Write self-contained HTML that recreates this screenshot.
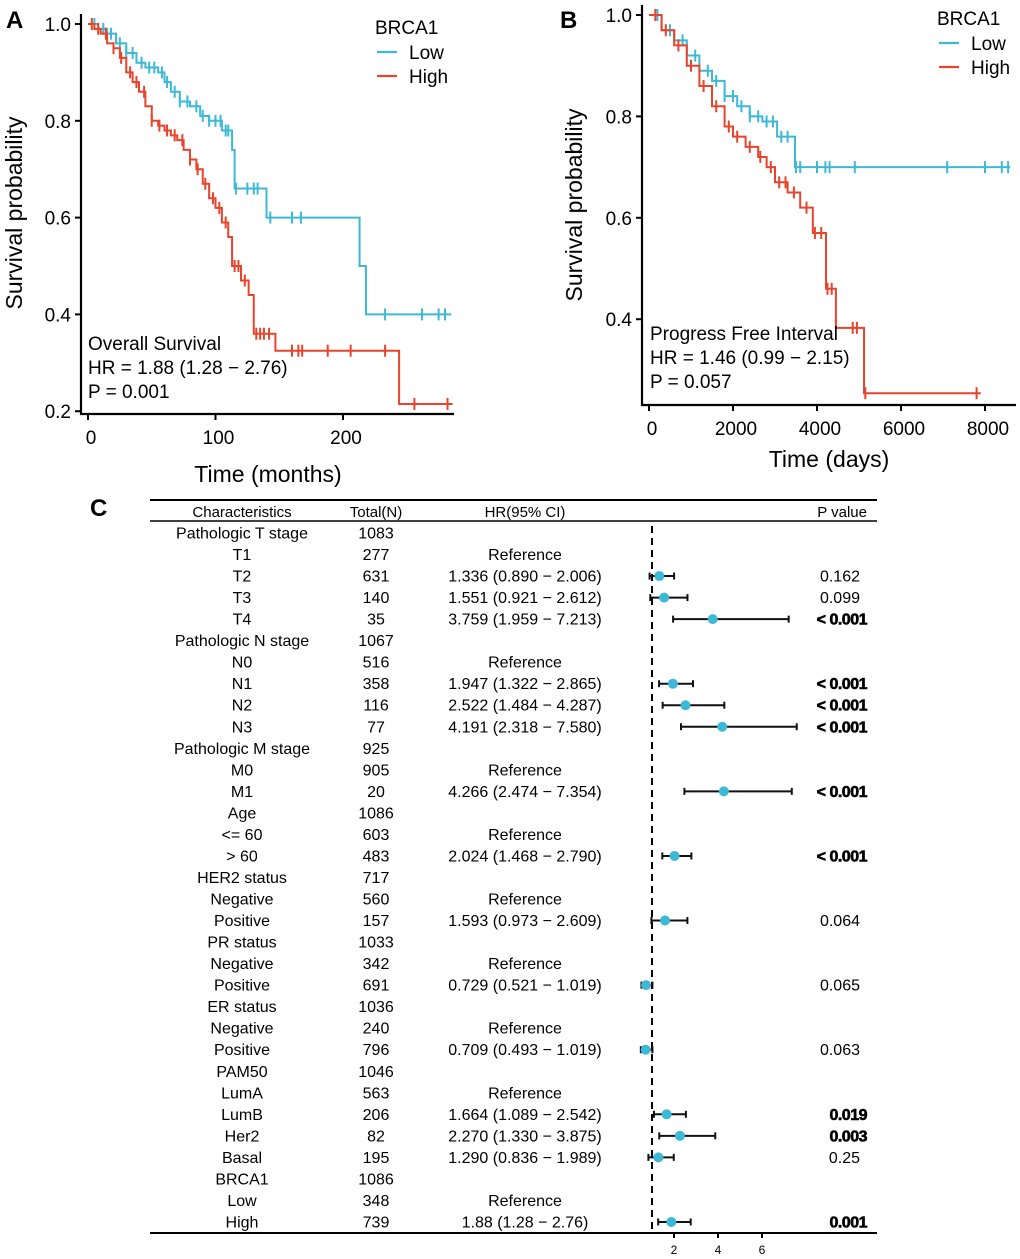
<!DOCTYPE html>
<html><head><meta charset="utf-8"><style>
body{margin:0;background:#fff}
svg{display:block;font-family:"Liberation Sans",Arial,sans-serif}
</style></head><body>
<svg id="fig" width="1020" height="1259" viewBox="0 0 1020 1259">
<g id="pA"></g>
<g id="pB"></g>
<g id="pC"></g>
</svg>
<script>
// ---- Panel A data (months, survival) ----
const aLowT=[0,8,15,22,30,38,45,55,60,65,72,80,88,95,105,113,115,140,213,218,285];
const aLowS=[1,0.99,0.98,0.96,0.94,0.92,0.91,0.90,0.88,0.86,0.84,0.83,0.81,0.80,0.78,0.74,0.66,0.60,0.50,0.40,0.40];
const aLowC=[5,12,18,25,30,35,42,48,52,58,62,68,72,78,85,90,95,100,104,108,110,116,125,130,133,143,160,167,233,262,275,280];
const aHighT=[0,5,10,15,20,25,30,35,40,45,50,55,60,65,70,75,80,85,90,95,100,105,110,113,120,126,130,147,244,286];
const aHighS=[1,0.99,0.98,0.96,0.95,0.93,0.90,0.88,0.86,0.83,0.80,0.79,0.78,0.77,0.76,0.74,0.72,0.70,0.67,0.64,0.62,0.59,0.56,0.50,0.47,0.44,0.36,0.325,0.215,0.215];
const aHighC=[3,8,14,20,26,33,38,44,50,56,62,68,74,80,86,92,98,103,108,115,118,123,132,135,138,142,160,165,168,188,206,233,256,282];
// ---- Panel B data (days, survival) ----
const bLowT=[0,300,600,900,1200,1500,1800,2100,2400,2700,3000,3050,3476,8600];
const bLowS=[1,0.97,0.95,0.92,0.89,0.87,0.84,0.82,0.80,0.79,0.79,0.76,0.70,0.70];
const bLowC=[200,500,800,1100,1400,1600,1800,2000,2200,2400,2600,2800,2950,3150,3300,3500,3600,4000,4200,4300,4900,7100,8000,8400,8550];
const bHighT=[0,300,600,900,1200,1500,1800,2000,2300,2600,2800,3000,3300,3600,3900,4214,4450,5120,7900];
const bHighS=[1,0.97,0.94,0.90,0.86,0.82,0.78,0.76,0.74,0.72,0.70,0.67,0.65,0.62,0.57,0.46,0.383,0.254,0.254];
const bHighC=[150,400,700,1000,1300,1600,1900,2100,2400,2650,2900,3100,3250,3450,3750,3950,4100,4250,4350,4850,4950,5150,7800];
// ---- Panel C data ----
const rowLabels=["Pathologic T stage","T1","T2","T3","T4","Pathologic N stage","N0","N1","N2","N3","Pathologic M stage","M0","M1","Age","<= 60","> 60","HER2 status","Negative","Positive","PR status","Negative","Positive","ER status","Negative","Positive","PAM50","LumA","LumB","Her2","Basal","BRCA1","Low","High"];
const rowTotals=["1083","277","631","140","35","1067","516","358","116","77","925","905","20","1086","603","483","717","560","157","1033","342","691","1036","240","796","1046","563","206","82","195","1086","348","739"];
const rowHR=[null,null,1.336,1.551,3.759,null,null,1.947,2.522,4.191,null,null,4.266,null,null,2.024,null,null,1.593,null,null,0.729,null,null,0.709,null,null,1.664,2.270,1.290,null,null,1.88];
const rowLo=[null,null,0.890,0.921,1.959,null,null,1.322,1.484,2.318,null,null,2.474,null,null,1.468,null,null,0.973,null,null,0.521,null,null,0.493,null,null,1.089,1.330,0.836,null,null,1.28];
const rowHi=[null,null,2.006,2.612,7.213,null,null,2.865,4.287,7.580,null,null,7.354,null,null,2.790,null,null,2.609,null,null,1.019,null,null,1.019,null,null,2.542,3.875,1.989,null,null,2.76];
const rowCIText=["","Reference","1.336 (0.890 − 2.006)","1.551 (0.921 − 2.612)","3.759 (1.959 − 7.213)","","Reference","1.947 (1.322 − 2.865)","2.522 (1.484 − 4.287)","4.191 (2.318 − 7.580)","","Reference","4.266 (2.474 − 7.354)","","Reference","2.024 (1.468 − 2.790)","","Reference","1.593 (0.973 − 2.609)","","Reference","0.729 (0.521 − 1.019)","","Reference","0.709 (0.493 − 1.019)","","Reference","1.664 (1.089 − 2.542)","2.270 (1.330 − 3.875)","1.290 (0.836 − 1.989)","","Reference","1.88 (1.28 − 2.76)"];
const rowP=["","","0.162","0.099","< 0.001","","","< 0.001","< 0.001","< 0.001","","","< 0.001","","","< 0.001","","","0.064","","","0.065","","","0.063","","","0.019","0.003","0.25","","","0.001"];
const rowPBold=[0,0,0,0,1,0,0,1,1,1,0,0,1,0,0,1,0,0,0,0,0,0,0,0,0,0,0,1,1,0,0,0,1];
const fTicks=[2,4,6];

const NS="http://www.w3.org/2000/svg";
const BLUE="#3db8d6",RED="#e8442c";
function mk(parent,tag,attrs,txt){const e=document.createElementNS(NS,tag);for(const k in attrs)e.setAttribute(k,attrs[k]);if(txt!==undefined)e.textContent=txt;parent.appendChild(e);return e;}
function stepPath(T,S,xs,ys){let d="M"+xs(T[0])+","+ys(S[0]);for(let i=1;i<T.length;i++){d+="H"+xs(T[i])+"V"+ys(S[i]);}return d;}
function survAt(T,S,t){let s=S[0];for(let i=0;i<T.length;i++){if(T[i]<=t)s=S[i];}return s;}

function kmPanel(g,cfg){
  const xs=v=>cfg.x0+v*cfg.xk, ys=v=>cfg.y1+(1-v)*cfg.yk;
  const ax=mk(g,"path",{d:`M${cfg.axX},${cfg.yTop}V${cfg.axY}H${cfg.xEnd}`,stroke:"#000","stroke-width":2.2,fill:"none"});
  
  cfg.yt.forEach(v=>{const y=ys(v);
    const t=mk(g,"line",{x1:cfg.axX-6,x2:cfg.axX,y1:y,y2:y,stroke:"#000","stroke-width":2});
    const l=mk(g,"text",{x:cfg.axX-10,y:y+7,"text-anchor":"end","font-size":19},v.toFixed(1));});
  cfg.xt.forEach(v=>{const x=xs(v);
    const t=mk(g,"line",{x1:x,x2:x,y1:cfg.axY,y2:cfg.axY+6,stroke:"#000","stroke-width":2});
    const l=mk(g,"text",{x:x+3,y:cfg.axY+30,"text-anchor":"middle","font-size":19},String(v));});
  [[cfg.low,BLUE,'low-curve'],[cfg.high,RED,'high-curve']].forEach(([c,col,nm])=>{
    const p=mk(g,"path",{d:stepPath(c[0],c[1],xs,ys),stroke:col,"stroke-width":2,fill:"none"});
    c[2].forEach(t=>{const x=xs(t),y=ys(survAt(c[0],c[1],t));
      const m=mk(g,"line",{x1:x,x2:x,y1:y-6,y2:y+6,stroke:col,"stroke-width":2});});
  });
  const yl=mk(g,"text",{transform:`translate(${cfg.ylX},${cfg.ylY}) rotate(-90)`,"text-anchor":"middle","font-size":23},"Survival probability");
  const xl=mk(g,"text",{x:cfg.xlX,y:cfg.xlY,"text-anchor":"middle","font-size":23},cfg.xTitle);
  const pl=mk(g,"text",{x:cfg.plX,y:cfg.plY,"font-size":24,"font-weight":"bold"},cfg.letter);
  const lt=mk(g,"text",{x:cfg.lgX,y:cfg.lgY,"font-size":19},"BRCA1");
  [["Low",BLUE,0],["High",RED,1]].forEach(([n,c,i])=>{const y=cfg.lgY+25+i*24;
    const ln=mk(g,"line",{x1:cfg.lgX+2,x2:cfg.lgX+22,y1:y-7,y2:y-7,stroke:c,"stroke-width":2.2});
    const tx=mk(g,"text",{x:cfg.lgX+34,y:y,"font-size":19},n);});
  cfg.notes.forEach((s,i)=>{const t=mk(g,"text",{x:cfg.ntX,y:cfg.ntY+i*24,"font-size":19},s);});
}

kmPanel(document.getElementById("pA"),{x0:88,xk:1.275,y1:24,yk:484,axX:81,axY:414,yTop:14,xEnd:454,
  yt:[1,0.8,0.6,0.4,0.2],xt:[0,100,200],low:[aLowT,aLowS,aLowC],high:[aHighT,aHighS,aHighC],
  ylX:22,ylY:213,xlX:268,xlY:482,xTitle:"Time (months)",plX:6,plY:28,letter:"A",lgX:375,lgY:34,
  notes:["Overall Survival","HR = 1.88 (1.28 − 2.76)","P = 0.001"],ntX:88,ntY:350});
kmPanel(document.getElementById("pB"),{x0:649,xk:0.042,y1:15,yk:507,axX:642,axY:405,yTop:5,xEnd:1016,
  yt:[1,0.8,0.6,0.4],xt:[0,2000,4000,6000,8000],low:[bLowT,bLowS,bLowC],high:[bHighT,bHighS,bHighC],
  ylX:582,ylY:205,xlX:829,xlY:467,xTitle:"Time (days)",plX:560,plY:28,letter:"B",lgX:937,lgY:25,
  notes:["Progress Free Interval","HR = 1.46 (0.99 − 2.15)","P = 0.057"],ntX:650,ntY:340});

// ---- Forest plot ----
(function(){
  const g=document.getElementById("pC");
  const fx=v=>652+(v-1)*22, ry=i=>533+i*21.53;
  const L=mk(g,"text",{x:90,y:516,"font-size":24,"font-weight":"bold"},"C");
  [[500,2],[521,1.5],[1233,2]].forEach(([y,w])=>{const l=mk(g,"line",{x1:150,x2:877,y1:y,y2:y,stroke:"#000","stroke-width":w});});
  const hdr=[["Characteristics",242,"middle"],["Total(N)",376,"middle"],["HR(95% CI)",525,"middle"],["P value",867,"end"]];
  hdr.forEach(([t,x,a])=>{const e=mk(g,"text",{x:x,y:517,"text-anchor":a,"font-size":15},t);});
  const dl=mk(g,"line",{x1:652,x2:652,y1:526,y2:1233,stroke:"#000","stroke-width":2,"stroke-dasharray":"7,5"});
  rowLabels.forEach((lab,i)=>{const y=ry(i)+5.5;
    const a=mk(g,"text",{x:242,y:y,"text-anchor":"middle","font-size":16},lab);
    const b=mk(g,"text",{x:376,y:y,"text-anchor":"middle","font-size":16},rowTotals[i]);
    if(rowCIText[i]){const c=mk(g,"text",{x:525,y:y,"text-anchor":"middle","font-size":16},rowCIText[i]);}
    if(rowP[i]){const p=mk(g,"text",{x:rowPBold[i]?867:860,y:y,"text-anchor":"end","font-size":16,"font-weight":rowPBold[i]?"bold":"normal","letter-spacing":rowPBold[i]?"-0.5":"0",stroke:rowPBold[i]?"#000":"none","stroke-width":rowPBold[i]?0.6:0},rowP[i]);}
    if(rowHR[i]!==null){const yy=ry(i);
      const w=mk(g,"line",{x1:fx(rowLo[i]),x2:fx(rowHi[i]),y1:yy,y2:yy,stroke:"#111","stroke-width":2});
      [rowLo[i],rowHi[i]].forEach(v=>{const c=mk(g,"line",{x1:fx(v),x2:fx(v),y1:yy-3.5,y2:yy+3.5,stroke:"#111","stroke-width":2});});
      const d=mk(g,"circle",{cx:fx(rowHR[i]),cy:yy,r:5,fill:BLUE});}
  });
  fTicks.forEach(v=>{const x=fx(v);
    const t=mk(g,"line",{x1:x,x2:x,y1:1233,y2:1238,stroke:"#000","stroke-width":2});
    const l=mk(g,"text",{x:x,y:1254,"text-anchor":"middle","font-size":12},String(v));});
})();
</script>
</body></html>
